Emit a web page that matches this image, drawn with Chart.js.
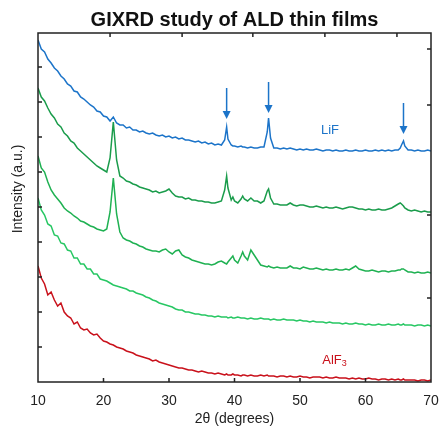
<!DOCTYPE html>
<html>
<head>
<meta charset="utf-8">
<title>GIXRD study of ALD thin films</title>
<script src="https://cdn.jsdelivr.net/npm/chart.js@4.4.1/dist/chart.umd.min.js"></script>
<style>
    html, body { margin: 0; padding: 0; background: #fff; }
    #wrap { width: 439px; height: 426px; }
</style>
</head>
<body>
<div id="wrap"><canvas id="xrd" width="439" height="426"></canvas></div>
<script>
(function () {
    "use strict";

    // 2theta positions (degrees), shared by every pattern
    const twoTheta = [
        10, 10.5, 11, 11.5, 12, 12.5, 13, 13.5, 14, 14.5,
        15, 15.5, 16, 16.5, 17, 17.5, 18, 18.5, 19, 19.5,
        20, 20.5, 21, 21.5, 22, 22.5, 23, 23.5, 24, 24.5,
        25, 25.5, 26, 26.5, 27, 27.5, 28, 28.5, 29, 29.5,
        30, 30.5, 31, 31.5, 32, 32.5, 33, 33.5, 34, 34.5,
        35, 35.5, 36, 36.5, 37, 37.5, 38, 38.5, 38.8, 39,
        39.5, 39.75, 40, 40.5, 41, 41.25, 41.5, 42, 42.5, 43,
        43.5, 44, 44.5, 45, 45.2, 45.5, 46, 46.5, 47, 47.5,
        48, 48.5, 49, 49.5, 50, 50.5, 51, 51.5, 52, 52.5,
        53, 53.5, 54, 54.5, 55, 55.5, 56, 56.5, 57, 57.5,
        58, 58.5, 59, 59.5, 60, 60.5, 61, 61.5, 62, 62.5,
        63, 63.5, 64, 64.5, 65, 65.3, 65.5, 65.8, 66, 66.5,
        67, 67.5, 68, 68.5, 69, 69.5, 70
    ];

    // stacked intensities (a.u., offset for display), top to bottom
    const lifFilm = [
        342, 333, 330, 323, 319, 314, 311, 306, 303, 298,
        296, 291, 290, 285, 283, 280, 277, 275, 271, 270,
        266, 265, 261, 265, 259, 257, 257, 254, 255, 252,
        252, 250, 251, 249, 248, 249, 247, 246, 247, 245,
        246, 244, 245, 243, 244, 242, 242, 241, 240, 241,
        239, 240, 238, 239, 237, 238, 237, 242, 255, 243,
        237, 236, 236, 235, 236, 235, 235, 234, 235, 234,
        234, 235, 235, 250, 264, 244, 234, 234, 233, 234,
        233, 234, 233, 232, 233, 232, 233, 232, 232, 233,
        232, 231, 232, 232, 231, 232, 231, 231, 232, 231,
        231, 232, 231, 231, 232, 231, 231, 232, 231, 232,
        231, 232, 231, 232, 232, 234, 237, 241, 236, 232,
        232, 231, 232, 231, 231, 232, 231
    ];
    const mixA = [
        294, 285, 281, 274, 268, 264, 258, 255, 249, 246,
        241, 239, 234, 231, 228, 225, 222, 219, 216, 214,
        212, 210, 224, 260, 222, 206, 204, 201, 200, 198,
        197, 195, 194, 193, 192, 190, 191, 189, 190, 191,
        193, 189, 186, 185, 185, 183, 184, 182, 182, 181,
        181, 180, 180, 179, 179, 180, 181, 192, 206, 194,
        182, 185, 181, 179, 183, 186, 183, 181, 184, 181,
        181, 179, 181, 191, 193, 184, 178, 178, 177, 177,
        177, 179, 177, 176, 177, 177, 176, 175, 175, 176,
        175, 174, 175, 174, 174, 175, 174, 173, 174, 175,
        175, 174, 173, 173, 172, 173, 172, 172, 173, 172,
        172, 173, 174, 176, 178, 179, 178, 176, 174, 172,
        171, 172, 171, 170, 171, 170, 170
    ];
    const mixB = [
        226, 214, 210, 200, 192, 187, 183, 179, 174, 171,
        169, 166, 164, 161, 160, 158, 156, 155, 153, 152,
        151, 153, 170, 204, 168, 150, 144, 142, 141, 139,
        138, 136, 135, 133, 132, 131, 131, 130, 132, 133,
        130, 128, 131, 132, 127, 125, 124, 122, 121, 120,
        119, 118, 118, 117, 118, 120, 121, 119, 118, 120,
        124, 126, 122, 119, 126, 130, 126, 122, 132, 127,
        122, 117, 116, 115, 116, 115, 114, 115, 114, 114,
        114, 116, 114, 114, 113, 115, 114, 113, 113, 114,
        113, 112, 113, 112, 112, 113, 112, 112, 113, 112,
        114, 116, 113, 112, 111, 111, 112, 111, 110, 111,
        111, 110, 111, 111, 112, 112, 113, 113, 112, 110,
        110, 109, 110, 109, 109, 110, 109
    ];
    const mixC = [
        184, 172, 167, 158, 156, 147, 146, 139, 138, 132,
        131, 124, 124, 118, 118, 113, 113, 108, 108, 103,
        102, 101, 99, 97, 96, 95, 94, 93, 91, 91,
        89, 88, 87, 85, 84, 82, 81, 79, 78, 77,
        76, 75, 73, 72, 72, 70, 70, 69, 68, 68,
        67, 67, 66, 66, 65, 66, 65, 65, 65, 64,
        65, 64, 64, 65, 64, 64, 64, 63, 64, 63,
        63, 64, 63, 63, 63, 62, 63, 62, 62, 63,
        62, 62, 62, 61, 62, 61, 61, 60, 61, 60,
        60, 60, 59, 60, 59, 59, 59, 58, 59, 58,
        58, 59, 58, 58, 57, 58, 57, 57, 58, 57,
        57, 58, 57, 57, 58, 57, 57, 58, 57, 57,
        57, 56, 57, 57, 56, 57, 56
    ];
    const alf3Film = [
        116, 104, 98, 87, 90, 82, 76, 79, 70, 66,
        64, 58, 60, 54, 52, 53, 49, 47, 48, 44,
        41, 40, 38, 37, 35, 34, 33, 31, 30, 29,
        27, 26, 25, 24, 23, 21, 22, 20, 19, 18,
        17, 16, 15, 14, 14, 13, 12, 12, 11, 10,
        11, 10, 9, 9, 8, 9, 8, 7, 8, 7,
        7, 8, 7, 7, 6, 7, 7, 6, 7, 6,
        6, 7, 6, 7, 6, 6, 6, 5, 6, 6,
        5, 6, 5, 5, 6, 5, 5, 4, 5, 5,
        5, 4, 5, 4, 4, 5, 4, 4, 4, 3,
        4, 3, 4, 3, 3, 4, 3, 3, 2, 3,
        3, 2, 3, 2, 3, 2, 2, 3, 2, 2,
        2, 2, 1, 2, 2, 1, 2
    ];

    // LiF reflections marked with arrows: angle, arrow start, arrow tip
    const arrowAngles = [38.8, 45.2, 65.8];
    const arrowFrom = [294, 300, 279];
    const arrowTo = [263, 269, 248];

    const bottomTicks = [20, 30, 40, 50, 60];
    const topTicks = [21, 32, 42.8, 53.8, 64.8];
    const leftTicks = [35, 70, 105, 140, 175, 210, 245, 280, 315];
    const rightTicks = [333, 277, 167, 84];

    const colors = {
        blue: "#1c74c9",
        darkGreen: "#1a9c4b",
        midGreen: "#1fb152",
        lightGreen: "#27c763",
        red: "#c9111b",
        axis: "#222"
    };
    const font = "'Liberation Sans', Arial, sans-serif";

    const pts = (vals) => twoTheta.map((t, i) => ({ x: t, y: vals[i] }));
    const line = (vals, color) => ({
        data: pts(vals),
        borderColor: color,
        borderWidth: 1.5,
        pointRadius: 0,
        tension: 0,
        fill: false
    });

    const decorations = {
        id: "decorations",
        afterDatasetsDraw(chart) {
            const { ctx, chartArea: a, scales: { x, y } } = chart;
            ctx.save();

            // frame + inward ticks
            ctx.strokeStyle = colors.axis;
            ctx.lineWidth = 1.5;
            ctx.strokeRect(a.left, a.top, a.right - a.left, a.bottom - a.top);
            ctx.beginPath();
            bottomTicks.forEach((v) => {
                const px = x.getPixelForValue(v);
                ctx.moveTo(px, a.bottom); ctx.lineTo(px, a.bottom - 4);
            });
            topTicks.forEach((v) => {
                const px = x.getPixelForValue(v);
                ctx.moveTo(px, a.top); ctx.lineTo(px, a.top + 4);
            });
            leftTicks.forEach((v) => {
                const py = y.getPixelForValue(v);
                ctx.moveTo(a.left, py); ctx.lineTo(a.left + 4, py);
            });
            rightTicks.forEach((v) => {
                const py = y.getPixelForValue(v);
                ctx.moveTo(a.right, py); ctx.lineTo(a.right - 4, py);
            });
            ctx.stroke();

            // arrows
            ctx.strokeStyle = colors.blue;
            ctx.fillStyle = colors.blue;
            ctx.lineWidth = 1.5;
            arrowAngles.forEach((t, i) => {
                const px = x.getPixelForValue(t);
                const y0 = y.getPixelForValue(arrowFrom[i]);
                const y1 = y.getPixelForValue(arrowTo[i]);
                ctx.beginPath();
                ctx.moveTo(px, y0); ctx.lineTo(px, y1 - 6);
                ctx.stroke();
                ctx.beginPath();
                ctx.moveTo(px - 4, y1 - 8); ctx.lineTo(px + 4, y1 - 8); ctx.lineTo(px, y1);
                ctx.closePath();
                ctx.fill();
            });

            // sample labels
            ctx.textBaseline = "middle";
            ctx.textAlign = "left";
            ctx.font = "13px " + font;
            ctx.fillStyle = colors.blue;
            ctx.fillText("LiF", x.getPixelForValue(53.2), y.getPixelForValue(252));
            ctx.fillStyle = colors.red;
            const ax = x.getPixelForValue(53.4), ay = y.getPixelForValue(22);
            ctx.fillText("AlF", ax, ay);
            const w = ctx.measureText("AlF").width;
            ctx.font = "9px " + font;
            ctx.fillText("3", ax + w, ay + 4);

            ctx.restore();
        },
        afterDraw(chart) {
            const { ctx, chartArea: a } = chart;
            ctx.save();
            ctx.fillStyle = "#111";
            ctx.textAlign = "center";
            ctx.textBaseline = "middle";
            ctx.font = "bold 20px " + font;
            ctx.fillText("GIXRD study of ALD thin films", (a.left + a.right) / 2, 20);
            ctx.fillStyle = colors.axis;
            ctx.font = "14px " + font;
            ctx.fillText("2\u03b8 (degrees)", (a.left + a.right) / 2, 419);
            ctx.translate(18, 189);
            ctx.rotate(-Math.PI / 2);
            ctx.fillText("Intensity (a.u.)", 0, 0);
            ctx.restore();
        }
    };

    new Chart(document.getElementById("xrd"), {
        type: "line",
        data: {
            datasets: [
                line(lifFilm, colors.blue),
                line(mixA, colors.darkGreen),
                line(mixB, colors.midGreen),
                line(mixC, colors.lightGreen),
                line(alf3Film, colors.red)
            ]
        },
        options: {
            responsive: false,
            animation: false,
            layout: { padding: { top: 33, left: 38, right: 8, bottom: 0 } },
            plugins: { legend: { display: false }, tooltip: { enabled: false }, title: { display: false } },
            scales: {
                x: {
                    type: "linear",
                    min: 10,
                    max: 70,
                    grid: { display: false },
                    border: { display: false },
                    ticks: { stepSize: 10, color: colors.axis, padding: 3, font: { size: 14, family: font } },
                    afterFit: (s) => { s.height = 44; s.paddingLeft = 0; s.paddingRight = 0; }
                },
                y: { display: false, min: 0, max: 349 }
            }
        },
        plugins: [decorations]
    });
})();
</script>
</body>
</html>
